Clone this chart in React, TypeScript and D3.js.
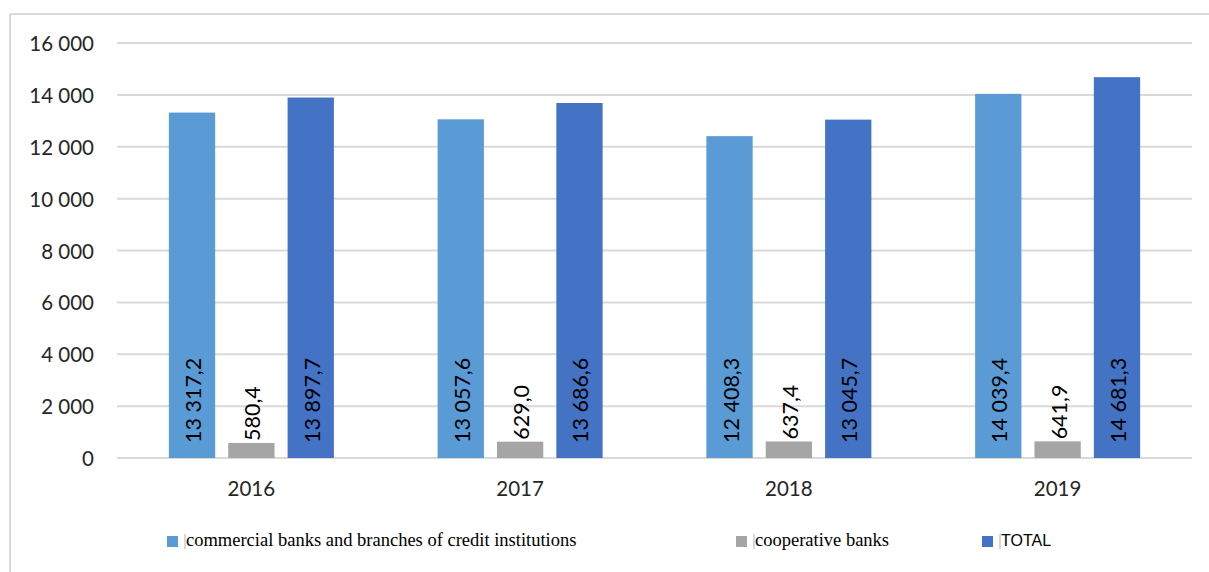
import React from "react";
import * as d3 from "d3";

// Deposits by bank type, 2016–2019
const years = ["2016", "2017", "2018", "2019"];
const seriesNames = [
  "commercial banks and branches of credit institutions",
  "cooperative banks",
  "TOTAL",
];
const commercial = [13317.2, 13057.6, 12408.3, 14039.4];
const cooperative = [580.4, 629.0, 637.4, 641.9];
const total = [13897.7, 13686.6, 13045.7, 14681.3];
const yTicks = [0, 2000, 4000, 6000, 8000, 10000, 12000, 14000, 16000];

const colors = ["#5B9BD5", "#A5A5A5", "#4472C4"];

const W = 1209;
const H = 572;
const plot = { left: 117, right: 1192, top: 43, bottom: 458 };

const locale = d3.formatLocale({
  decimal: ",",
  thousands: " ",
  grouping: [3],
  currency: ["", ""],
});
const fmtValue = locale.format(",.1f");
const fmtTick = locale.format(",.0f");

const axisFont = "Lato, 'Open Sans', sans-serif";
const serifFont = "'Liberation Serif', 'DejaVu Serif', serif";
const sansFont = "'Liberation Sans', Arial, sans-serif";

export default function App() {
  const seriesValues = [commercial, cooperative, total];

  const y = d3.scaleLinear().domain([0, 16000]).range([plot.bottom, plot.top]);
  const x0 = d3
    .scaleBand<string>()
    .domain(years)
    .range([plot.left, plot.right])
    .paddingInner(0.386)
    .paddingOuter(0.193);
  const x1 = d3
    .scaleBand<number>()
    .domain([0, 1, 2])
    .range([0, x0.bandwidth()])
    .paddingInner(0.22);

  const legendItems = [
    { x: 167, label: seriesNames[0], font: serifFont, size: 18.5 },
    { x: 736, label: seriesNames[1], font: serifFont, size: 18.5 },
    { x: 982, label: seriesNames[2], font: sansFont, size: 16 },
  ];

  return (
    <svg
      width={W}
      height={H}
      style={{ position: "absolute", left: 0, top: 0, display: "block", background: "#fff" }}
    >
      {/* chart frame */}
      <line x1={10} y1={14} x2={W} y2={14} stroke="#D9D9D9" strokeWidth={2} />
      <line x1={10} y1={14} x2={10} y2={H} stroke="#D9D9D9" strokeWidth={2} />

      {/* gridlines and y tick labels */}
      {yTicks.map((t) => (
        <g key={t}>
          <line
            x1={plot.left}
            x2={plot.right}
            y1={y(t)}
            y2={y(t)}
            stroke="#D9D9D9"
            strokeWidth={2}
          />
          <text
            x={94}
            y={y(t)}
            textAnchor="end"
            dominantBaseline="central"
            fontFamily={axisFont}
            fontSize={20.5}
            fill="#262626"
          >
            {fmtTick(t)}
          </text>
        </g>
      ))}

      {/* bars */}
      {years.map((yr, i) => (
        <g key={yr} transform={`translate(${x0(yr)},0)`}>
          {seriesValues.map((vals, s) => {
            const v = vals[i];
            return (
              <rect
                key={s}
                x={x1(s)!}
                y={y(v)}
                width={x1.bandwidth()}
                height={y(0) - y(v)}
                fill={colors[s]}
              />
            );
          })}
          {seriesValues.map((vals, s) => {
            const v = vals[i];
            const cx = x1(s)! + x1.bandwidth() / 2 + 1;
            const start = s === 1 ? y(v) - 2 : y(0) - 15;
            return (
              <text
                key={`l${s}`}
                transform={`translate(${cx},${start}) rotate(-90)`}
                textAnchor="start"
                dominantBaseline="central"
                fontFamily={axisFont}
                fontSize={21.5}
                fill="#000"
              >
                {fmtValue(v)}
              </text>
            );
          })}
          <text
            x={x0.bandwidth() / 2}
            y={496}
            textAnchor="middle"
            fontFamily={axisFont}
            fontSize={20.5}
            fill="#262626"
          >
            {yr}
          </text>
        </g>
      ))}

      {/* legend */}
      {legendItems.map((item, s) => (
        <g key={s}>
          <rect x={item.x} y={536} width={11} height={11} fill={colors[s]} />
          <line
            x1={item.x + 18}
            x2={item.x + 18}
            y1={534}
            y2={549}
            stroke="#A0A0A0"
            strokeWidth={0.8}
          />
          <text
            x={item.x + 19}
            y={546}
            fontFamily={item.font}
            fontSize={item.size}
            fill="#000"
          >
            {item.label}
          </text>
        </g>
      ))}
    </svg>
  );
}
